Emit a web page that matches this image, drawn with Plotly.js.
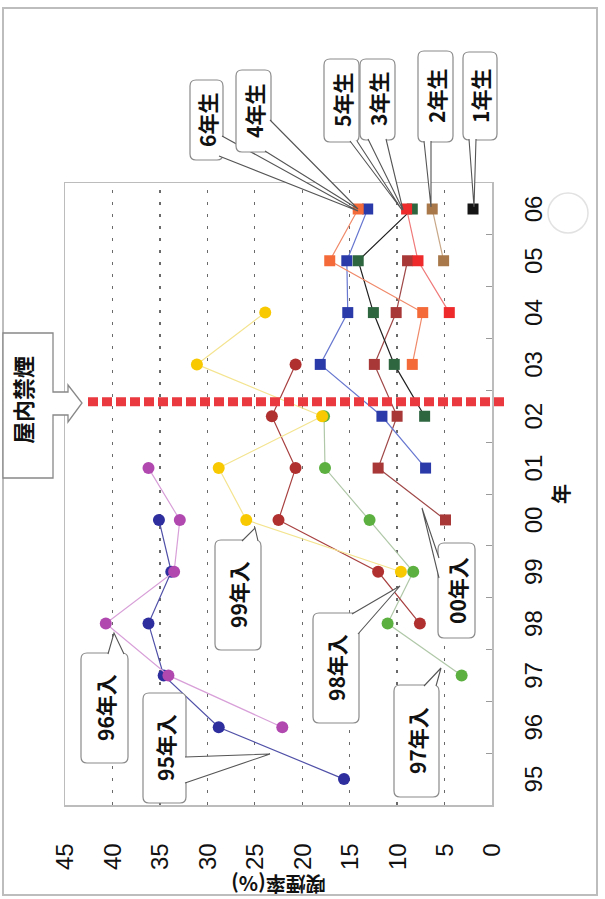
<!DOCTYPE html>
<html><head><meta charset="utf-8">
<script src="https://cdn.plot.ly/plotly-3.0.1.min.js"></script>
<style>
html,body{margin:0;padding:0;background:#fff;overflow:hidden;width:605px;height:899px;}
#wrap{position:absolute;left:0;top:0;width:899px;height:605px;transform-origin:0 0;transform:translate(0px,899px) rotate(-90deg);}
</style></head><body><div id="wrap"></div>
<script>
// ---- data ----
const years = ['95','96','97','98','99','00','01','02','03','04','05','06'];
const cohortNames = ['95年入','96年入','97年入','98年入','99年入','00年入','01年入','02年入','03年入','04年入','05年入','06年入'];
const c95 = [15.6, 28.8, 34.6, 36.2, 33.8, 35.1];
const c96 = [22.1, 34.1, 40.7, 33.5, 32.9, 36.2];
const c97 = [3.2, 11.0, 8.3, 12.9, 17.6, 17.7];
const c98 = [7.6, 12.0, 22.5, 20.7, 23.2, 20.7];
const c99 = [9.6, 25.9, 28.8, 17.9, 31.1, 23.9];
const c00 = [4.9, 12.0, 10.0, 12.4, 10.1, 8.9];
const c01 = [7.0, 11.6, 18.1, 15.2, 15.3, 13.1];
const c02 = [7.1, 10.3, 12.5, 14.1, 8.4];
const c03 = [8.4, 7.3, 17.1, 14.1];
const c04 = [4.5, 7.8, 9.0];
const c05 = [5.1, 6.3];
const c06 = [2.0];
const cohortValues = [c95, c96, c97, c98, c99, c00, c01, c02, c03, c04, c05, c06];
const banPosition = 7.28; // 屋内禁煙 (between 02 and 03, category index)

// ---- styles ----
const symbols = ['circle','circle','circle','circle','circle','square','square','square','square','square','square','square'];
const markerColors = ['#2e2e9e','#b048b0','#5cb040','#b03030','#f8c800','#a83838','#2a3aa8','#2e6640','#f46a38','#ee2a2a','#a8784a','#151515'];
const lineColors = ['#5050a8','#d8a0d8','#b0c8a8','#a84040','#f4e490','#a04848','#6878d0','#202020','#f08a6a','#f07a7a','#c8a888','#151515'];

const traces = cohortValues.map((vals, i) => ({
  type: 'scatter', mode: 'lines+markers', name: cohortNames[i],
  x: years.slice(i, i + vals.length), y: vals,
  line: {color: lineColors[i], width: 1.2},
  marker: {symbol: symbols[i], color: markerColors[i], size: symbols[i] === 'circle' ? 12 : 11, line: {width: 0}},
  showlegend: false
}));

// ---- layout geometry (unrotated frame 899x605, then rotated -90deg) ----
const W = 899, H = 605, ML = 94, MR = 183, MT = 65, MB = 113;
const PW = W - ML - MR, PH = H - MT - MB;
// convert final picture coords (X right, Y down on the rotated page) to paper coords
function P(X, Y) { const u = W - Y, w = X; return [(u - ML) / PW, (H - MB - w) / PH]; }
function ps(X, Y) { const p = P(X, Y); return p[0].toFixed(5) + ',' + p[1].toFixed(5); }
function roundRect(X0, X1, Y0, Y1, r) {
  return `M${ps(X0 + r, Y0)} L${ps(X1 - r, Y0)} Q${ps(X1, Y0)} ${ps(X1, Y0 + r)} L${ps(X1, Y1 - r)} Q${ps(X1, Y1)} ${ps(X1 - r, Y1)} L${ps(X0 + r, Y1)} Q${ps(X0, Y1)} ${ps(X0, Y1 - r)} L${ps(X0, Y0 + r)} Q${ps(X0, Y0)} ${ps(X0 + r, Y0)} Z`;
}

const callouts = [
  {t: '6年生', box: [190, 223, 80, 160], base: [[222, 136], [219, 156]], tip: [358, 211]},
  {t: '4年生', box: [236, 271, 70, 152], base: [[270, 120], [265, 151]], tip: [358, 209]},
  {t: '5年生', box: [324, 359, 59, 142], base: [[350, 141], [357, 141]], tip: [402, 210]},
  {t: '3年生', box: [360, 395, 59, 140], base: [[368, 139], [386, 139]], tip: [403, 210]},
  {t: '2年生', box: [418, 453, 51, 142], base: [[424, 141], [431, 141]], tip: [431, 207]},
  {t: '1年生', box: [463, 497, 52, 140], base: [[469, 139], [476, 139]], tip: [474, 207]},
  {t: '96年入', box: [81, 128, 653, 763], base: [[108, 654], [124, 654]], tip: [114, 633]},
  {t: '95年入', box: [143, 186, 693, 803], base: [[185, 757], [185, 783]], tip: [270, 754]},
  {t: '99年入', box: [215, 261, 540, 650], base: [[242, 541], [258, 541]], tip: [255, 528]},
  {t: '98年入', box: [313, 359, 613, 723], base: [[352, 614], [358, 634]], tip: [400, 586]},
  {t: '97年入', box: [394, 439, 685, 797], base: [[424, 686], [436, 686]], tip: [441, 668]},
  {t: '00年入', box: [438, 475, 543, 638], base: [[439, 558], [439, 578]], tip: [422, 508]}
];

const shapes = [];
const annotations = [];
const cjk = 'Noto Sans CJK JP, Liberation Sans, sans-serif';

// outer frame
{
  const a = P(3, 895), b = P(597, 8);
  shapes.push({type: 'rect', xref: 'paper', yref: 'paper', x0: a[0], y0: a[1], x1: b[0], y1: b[1], line: {color: '#bdbdbd', width: 2}, layer: 'below'});
}
// punch hole mark
{
  const a = P(548, 233), b = P(588, 193);
  shapes.push({type: 'circle', xref: 'paper', yref: 'paper', x0: a[0], y0: a[1], x1: b[0], y1: b[1], line: {color: '#e2e2e2', width: 1.5}, layer: 'below'});
}
// ban line
{
  const xp = (banPosition + 0.5) / years.length;
  shapes.push({type: 'line', xref: 'paper', yref: 'paper', x0: xp, x1: xp, y0: P(88, 0)[1], y1: P(506, 0)[1],
    line: {color: '#ea3a40', width: 9, dash: '10px,4px'}, layer: 'above'});
}
// 屋内禁煙 arrow box
{
  const pts = [[3,333],[53,333],[53,392],[68,392],[68,385],[82,403],[68,422],[68,415],[53,415],[53,478],[3,478]];
  shapes.push({type: 'path', xref: 'paper', yref: 'paper', path: 'M' + pts.map(p => ps(p[0], p[1])).join(' L') + ' Z',
    fillcolor: '#ffffff', line: {color: '#888', width: 1.3}, layer: 'above'});
  const c = P(22, 400);
  annotations.push({text: '屋内禁煙', xref: 'paper', yref: 'paper', x: c[0], y: c[1], showarrow: false,
    xanchor: 'center', yanchor: 'middle', font: {family: cjk, size: 22, color: '#111', weight: 'bold'}});
}
// callouts
callouts.forEach(c => {
  const [X0, X1, Y0, Y1] = c.box;
  shapes.push({type: 'path', xref: 'paper', yref: 'paper', path: roundRect(X0, X1, Y0, Y1, 6),
    fillcolor: '#ffffff', line: {color: '#8a8a8a', width: 1.2}, layer: 'above'});
  shapes.push({type: 'path', xref: 'paper', yref: 'paper',
    path: `M${ps(c.base[0][0], c.base[0][1])} L${ps(c.tip[0], c.tip[1])} L${ps(c.base[1][0], c.base[1][1])}`,
    fillcolor: '#ffffff', line: {color: '#555', width: 1.1}, layer: 'above'});
  const m = P((X0 + X1) / 2, (Y0 + Y1) / 2);
  annotations.push({text: c.t, xref: 'paper', yref: 'paper', x: m[0], y: m[1], showarrow: false,
    xanchor: 'center', yanchor: 'middle', font: {family: cjk, size: 21, color: '#111', weight: 'bold'}});
});

const layout = {
  width: W, height: H,
  margin: {l: ML, r: MR, t: MT, b: MB, pad: 0},
  paper_bgcolor: '#ffffff', plot_bgcolor: '#ffffff',
  showlegend: false,
  font: {family: 'Liberation Sans, Arial, ' + cjk, color: '#111'},
  xaxis: {
    type: 'category', categoryorder: 'array', categoryarray: years, range: [-0.5, 11.5],
    tickson: 'boundaries', ticks: 'inside', ticklen: 6, tickcolor: '#9a9a9a', tickwidth: 1,
    showgrid: false, zeroline: false, showline: true, linecolor: '#bcbcbc', linewidth: 1.5, mirror: true,
    tickfont: {size: 24, family: 'Liberation Sans, Arial, sans-serif', color: '#111'},
    ticklabelstandoff: 20, automargin: false,
    title: {text: '年', font: {family: cjk, size: 20, color: '#111', weight: 'bold'}, standoff: 8}
  },
  yaxis: {
    range: [0, 45], dtick: 5, tick0: 0,
    showgrid: true, gridcolor: '#6a6a6a', griddash: '3px,9px', gridwidth: 1.3,
    zeroline: false, showline: true, linecolor: '#bcbcbc', linewidth: 1.5, mirror: true,
    ticks: '', tickfont: {size: 24, family: 'Liberation Sans, Arial, sans-serif', color: '#111'},
    ticklabelstandoff: 32, automargin: false,
    title: {text: '喫煙率(%)', font: {family: cjk, size: 20, color: '#111', weight: 'bold'}, standoff: 0}
  },
  shapes: shapes,
  annotations: annotations
};

Plotly.newPlot('wrap', traces, layout, {displayModeBar: false, staticPlot: true});
</script></body></html>
